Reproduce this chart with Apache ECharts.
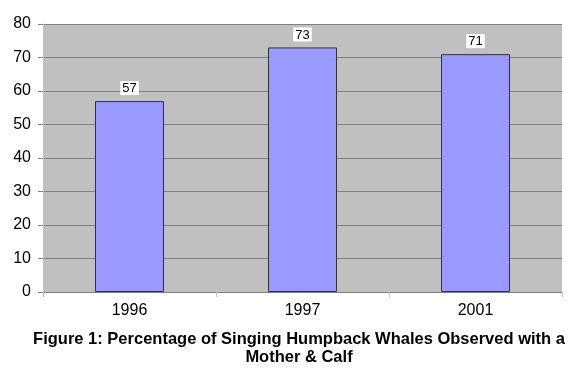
<!DOCTYPE html>
<html><head><meta charset="utf-8">
<script src="https://cdn.jsdelivr.net/npm/echarts@6/dist/echarts.min.js"></script>
<style>html,body{margin:0;padding:0;background:#fff}#c{width:574px;height:392px}</style>
</head><body><div id="c"></div>
<script>
var categories = ['1996', '1997', '2001'];
var values = [57, 73, 71];
var yTicks = [0, 10, 20, 30, 40, 50, 60, 70, 80];
var titleLines = ['Figure 1: Percentage of Singing Humpback Whales Observed with a', 'Mother & Calf'];

var chart = echarts.init(document.getElementById('c'), null, {renderer: 'canvas'});
chart.setOption({
  animation: false,
  backgroundColor: '#ffffff',
  textStyle: {fontFamily: 'Liberation Sans, Arial, sans-serif'},
  title: {
    text: titleLines.join('\n'),
    left: 299, top: 330, textAlign: 'center', padding: 0,
    textStyle: {fontSize: 16.5, fontWeight: 'bold', color: '#000', lineHeight: 18, fontFamily: 'Liberation Sans, Arial, sans-serif'}
  },
  grid: {left: 43, right: 12, top: 24, bottom: 100, backgroundColor: '#c0c0c0', show: true, borderWidth: 0},
  xAxis: {
    type: 'category', data: categories,
    axisLine: {lineStyle: {color: '#808080', width: 1}},
    axisTick: {show: true, alignWithLabel: false, length: 5, lineStyle: {color: '#c0c0c0'}},
    axisLabel: {fontSize: 16, color: '#000', margin: 11, fontFamily: 'Liberation Sans, Arial, sans-serif'}
  },
  yAxis: {
    type: 'value', min: yTicks[0], max: yTicks[yTicks.length - 1], interval: 10,
    axisLine: {show: true, lineStyle: {color: '#c0c0c0'}},
    axisTick: {show: true, length: 5, lineStyle: {color: '#808080'}},
    axisLabel: {fontSize: 16, color: '#000', margin: 12, fontFamily: 'Liberation Sans, Arial, sans-serif'},
    splitLine: {show: true, lineStyle: {color: '#808080', width: 1}}
  },
  series: [{
    type: 'bar', data: values, barWidth: 69,
    itemStyle: {color: '#9999ff', borderColor: '#333333', borderWidth: 1},
    label: {
      show: true, position: 'top', distance: 6, fontSize: 13, color: '#000',
      backgroundColor: '#ffffff', padding: [1, 2, 0, 2],
      fontFamily: 'Liberation Sans, Arial, sans-serif'
    }
  }]
});
</script></body></html>
